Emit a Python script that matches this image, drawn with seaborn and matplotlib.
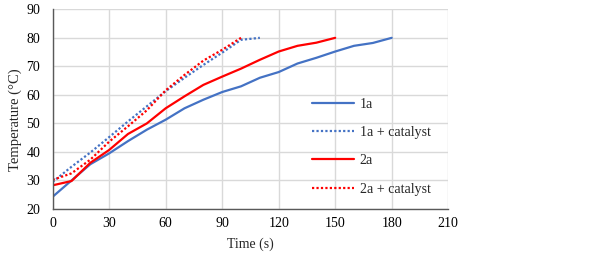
import pandas as pd
import matplotlib
matplotlib.use("Agg")
import matplotlib.pyplot as plt
import seaborn as sns

# Data (time in s, temperature in degC)
t_1a = [0, 10, 20, 30, 40, 50, 60, 70, 80, 90, 100, 110, 120, 130, 140, 150, 160, 170, 180]
temp_1a = [24.3, 30.0, 35.7, 39.5, 43.8, 47.8, 51.3, 55.3, 58.3, 61.0, 63.0, 66.0, 68.0, 71.0, 73.0, 75.2, 77.2, 78.2, 80.0]

t_1a_cat = [0, 10, 20, 30, 40, 50, 60, 70, 80, 90, 100, 110]
temp_1a_cat = [29.5, 34.8, 39.8, 45.2, 50.7, 56.0, 61.3, 66.0, 70.5, 74.8, 79.3, 80.0]

t_2a = [0, 10, 20, 30, 40, 50, 60, 70, 80, 90, 100, 110, 120, 130, 140, 150]
temp_2a = [28.3, 29.8, 36.2, 40.7, 46.3, 50.0, 55.3, 59.5, 63.5, 66.4, 69.2, 72.3, 75.2, 77.2, 78.3, 80.0]

t_2a_cat = [0, 10, 20, 30, 40, 50, 60, 70, 80, 90, 100]
temp_2a_cat = [30.2, 32.5, 37.3, 43.6, 49.0, 54.6, 61.6, 67.0, 72.0, 75.8, 80.0]

series = ["1a", "1a + catalyst", "2a", "2a + catalyst"]

# Long-form table for seaborn
frames = []
for name, t, temp in zip(series, [t_1a, t_1a_cat, t_2a, t_2a_cat],
                         [temp_1a, temp_1a_cat, temp_2a, temp_2a_cat]):
    frames.append(pd.DataFrame({"Time": t, "Temperature": temp, "Series": name}))
df = pd.concat(frames, ignore_index=True)

sns.set_style("whitegrid")
plt.rcParams["font.family"] = ["Liberation Serif", "DejaVu Serif"]

fig = plt.figure(figsize=(6.02, 2.57), dpi=100)
ax = fig.add_axes([0.0875, 0.1868, 0.657, 0.777])

palette = {"1a": "#4472C4", "1a + catalyst": "#4472C4", "2a": "#FF0000", "2a + catalyst": "#FF0000"}
dashes = {"1a": "", "1a + catalyst": (1, 1), "2a": "", "2a + catalyst": (1, 1)}

sns.lineplot(data=df, x="Time", y="Temperature", hue="Series", style="Series",
             hue_order=series, style_order=series, palette=palette, dashes=dashes,
             linewidth=1.6, ax=ax)

ax.set_xlim(0, 210)
ax.set_ylim(20, 90)
ax.set_xticks(range(0, 211, 30))
ax.set_yticks(range(20, 91, 10))
ax.grid(True, color="#d9d9d9", linewidth=1.0)
for side in ["top", "right"]:
    ax.spines[side].set_visible(False)
for side in ["left", "bottom"]:
    ax.spines[side].set_color("#595959")
    ax.spines[side].set_linewidth(1.0)
ax.tick_params(axis="both", labelsize=10, length=0, colors="black")
ax.tick_params(axis="x", pad=6)
ax.tick_params(axis="y", pad=9)

ax.set_xlabel("Time (s)", fontsize=10, labelpad=5)
ax.set_ylabel("Temperature (°C)", fontsize=10.5)
ax.yaxis.set_label_coords(-0.078, 0.446)

leg = ax.legend(loc="center left", bbox_to_anchor=(0.625, 0.312), frameon=False,
                fontsize=10, handlelength=3.0, handletextpad=0.4, labelspacing=1.1)

fig.savefig("out.png", dpi=100)
